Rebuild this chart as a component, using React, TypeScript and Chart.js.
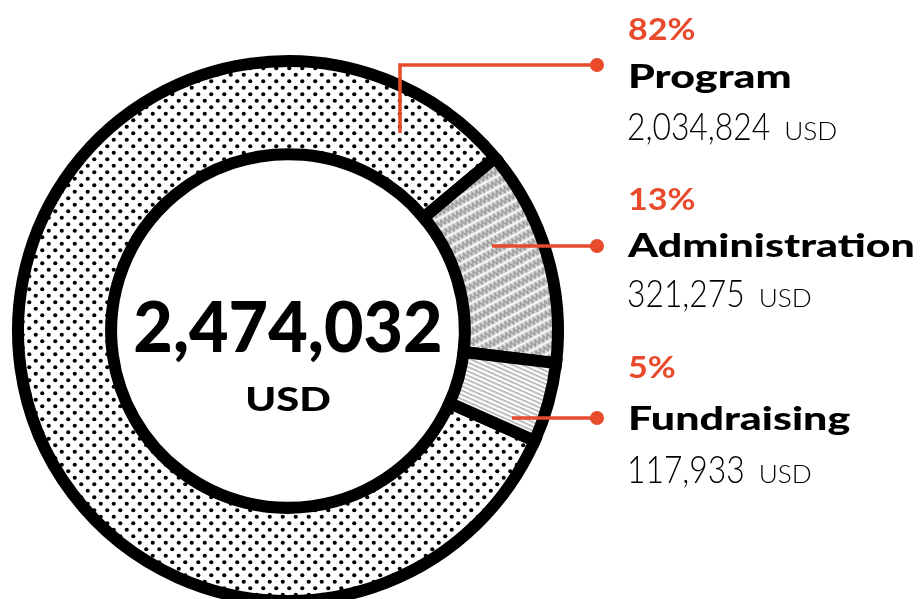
import React, { useEffect, useRef } from "react";
import { Chart, registerables } from "chart.js";

Chart.register(...registerables);

// ---- data ----
const categories = ["Program", "Administration", "Fundraising"];
const amounts = [2034824, 321275, 117933];
const currency = "USD";

// ---- style / layout ----
const RED = "#e84a2b";
const W = 922;
const H = 599;
const CANVAS_H = 680;

function makeDots(): CanvasPattern {
  const c = document.createElement("canvas");
  c.width = 13;
  c.height = 13;
  const g = c.getContext("2d")!;
  g.fillStyle = "#fff";
  g.fillRect(0, 0, 13, 13);
  g.fillStyle = "#000";
  for (const [x, y] of [
    [3.25, 3.25],
    [9.75, 9.75],
  ]) {
    g.beginPath();
    g.arc(x, y, 2.1, 0, Math.PI * 2);
    g.fill();
  }
  return g.createPattern(c, "repeat")!;
}

function makeWeave(): CanvasPattern {
  const c = document.createElement("canvas");
  c.width = 9;
  c.height = 10;
  const g = c.getContext("2d")!;
  g.fillStyle = "#d9d9d9";
  g.fillRect(0, 0, 9, 10);
  g.strokeStyle = "#9a9a9a";
  g.lineWidth = 1.5;
  g.beginPath();
  g.moveTo(0, 7);
  g.lineTo(2.25, 1.5);
  g.lineTo(4.5, 7);
  g.lineTo(6.75, 1.5);
  g.lineTo(9, 7);
  g.stroke();
  g.fillStyle = "#ffffff";
  g.fillRect(0, 8.3, 9, 1.5);
  const p = g.createPattern(c, "repeat")!;
  p.setTransform(new DOMMatrix().rotate(-28));
  return p;
}

function makeHatch(): CanvasPattern {
  const c = document.createElement("canvas");
  c.width = 4;
  c.height = 4;
  const g = c.getContext("2d")!;
  g.fillStyle = "#fff";
  g.fillRect(0, 0, 4, 4);
  g.fillStyle = "#b0b0b0";
  g.fillRect(0, 0, 4, 1.6);
  const p = g.createPattern(c, "repeat")!;
  p.setTransform(new DOMMatrix().rotate(24));
  return p;
}

const fmt = (n: number) => n.toLocaleString("en-US");

function stretchText(
  ctx: CanvasRenderingContext2D,
  text: string,
  x: number,
  y: number,
  sx: number,
  align: "left" | "center" = "left"
): number {
  const w = ctx.measureText(text).width * sx;
  const left = align === "center" ? x - w / 2 : x;
  ctx.save();
  ctx.textAlign = "left";
  ctx.translate(left, y);
  ctx.scale(sx, 1);
  ctx.fillText(text, 0, 0);
  ctx.restore();
  return w;
}

export default function App() {
  const ref = useRef<HTMLCanvasElement | null>(null);

  useEffect(() => {
    const canvas = ref.current;
    if (!canvas) return;
    const total = amounts.reduce((a, b) => a + b, 0);
    const pcts = amounts.map((v) => Math.round((v / total) * 100) + "%");

    // label rows (baselines) and connector geometry relative to chart centre
    const labelX = 628;
    const pctBase = [40, 210, 378];
    const nameBase = [88, 257, 430];
    const amtBase = [140, 307, 483];
    const connectors: number[][][] = [
      [
        [112, -198],
        [112, -266],
        [309, -266],
      ],
      [
        [204, -85],
        [309, -85],
      ],
      [
        [224, 87],
        [309, 87],
      ],
    ];

    const annotate = {
      id: "annotate",
      afterDraw(chart: any) {
        const ctx: CanvasRenderingContext2D = chart.ctx;
        const arc = chart.getDatasetMeta(0).data[0];
        const cx = arc.x;
        const cy = arc.y;
        ctx.save();
        ctx.textBaseline = "alphabetic";
        // centre text
        ctx.fillStyle = "#000";
        ctx.font = "900 70px Lato";
        stretchText(ctx, fmt(total), cx, cy + 21, 0.975, "center");
        ctx.font = "900 32px Lato";
        stretchText(ctx, currency, cx, cy + 80, 1.3, "center");

        // connectors
        ctx.strokeStyle = RED;
        ctx.fillStyle = RED;
        ctx.lineWidth = 3.5;
        connectors.forEach((pts) => {
          ctx.beginPath();
          pts.forEach(([dx, dy], i) => {
            if (i === 0) ctx.moveTo(cx + dx, cy + dy);
            else ctx.lineTo(cx + dx, cy + dy);
          });
          ctx.stroke();
          const [ex, ey] = pts[pts.length - 1];
          ctx.beginPath();
          ctx.arc(cx + ex, cy + ey, 7, 0, Math.PI * 2);
          ctx.fill();
        });

        // labels
        categories.forEach((name, i) => {
          ctx.fillStyle = RED;
          ctx.font = "700 31px Lato";
          stretchText(ctx, pcts[i], labelX, pctBase[i], 1.1);
          ctx.fillStyle = "#000";
          ctx.font = "900 33px Lato";
          stretchText(ctx, name, labelX, nameBase[i], 1.3);
          ctx.font = "300 37px Lato";
          const w = stretchText(ctx, fmt(amounts[i]), labelX - 1, amtBase[i], 0.86);
          ctx.font = "300 25px Lato";
          stretchText(ctx, currency, labelX - 1 + w + 14, amtBase[i], 1.05);
        });
        ctx.restore();
      },
    };

    const bw = 12;
    const chart = new Chart(canvas, {
      type: "doughnut",
      data: {
        labels: categories,
        datasets: [
          {
            data: amounts,
            backgroundColor: [makeDots(), makeWeave(), makeHatch()],
            hoverBackgroundColor: [makeDots(), makeWeave(), makeHatch()],
            borderColor: "#000",
            hoverBorderColor: "#000",
            borderWidth: bw,
            hoverBorderWidth: bw,
            borderAlign: "center",
            borderJoinStyle: "miter",
          } as any,
        ],
      },
      options: {
        responsive: false,
        maintainAspectRatio: false,
        animation: false,
        devicePixelRatio: 1,
        rotation: 114,
        cutout: "65.5%",
        events: [],
        layout: {
          padding: { left: 12, top: 55, right: W - 12 - 552, bottom: CANVAS_H - 55 - 552 },
        },
        plugins: {
          legend: { display: false },
          tooltip: { enabled: false },
        },
      } as any,
      plugins: [annotate],
    });
    return () => chart.destroy();
  }, []);

  return (
    <div
      style={{
        position: "absolute",
        left: 0,
        top: 0,
        width: W,
        height: H,
        overflow: "hidden",
        background: "#fff",
      }}
    >
      <canvas ref={ref} width={W} height={CANVAS_H} style={{ width: W, height: CANVAS_H, display: "block" }} />
    </div>
  );
}
